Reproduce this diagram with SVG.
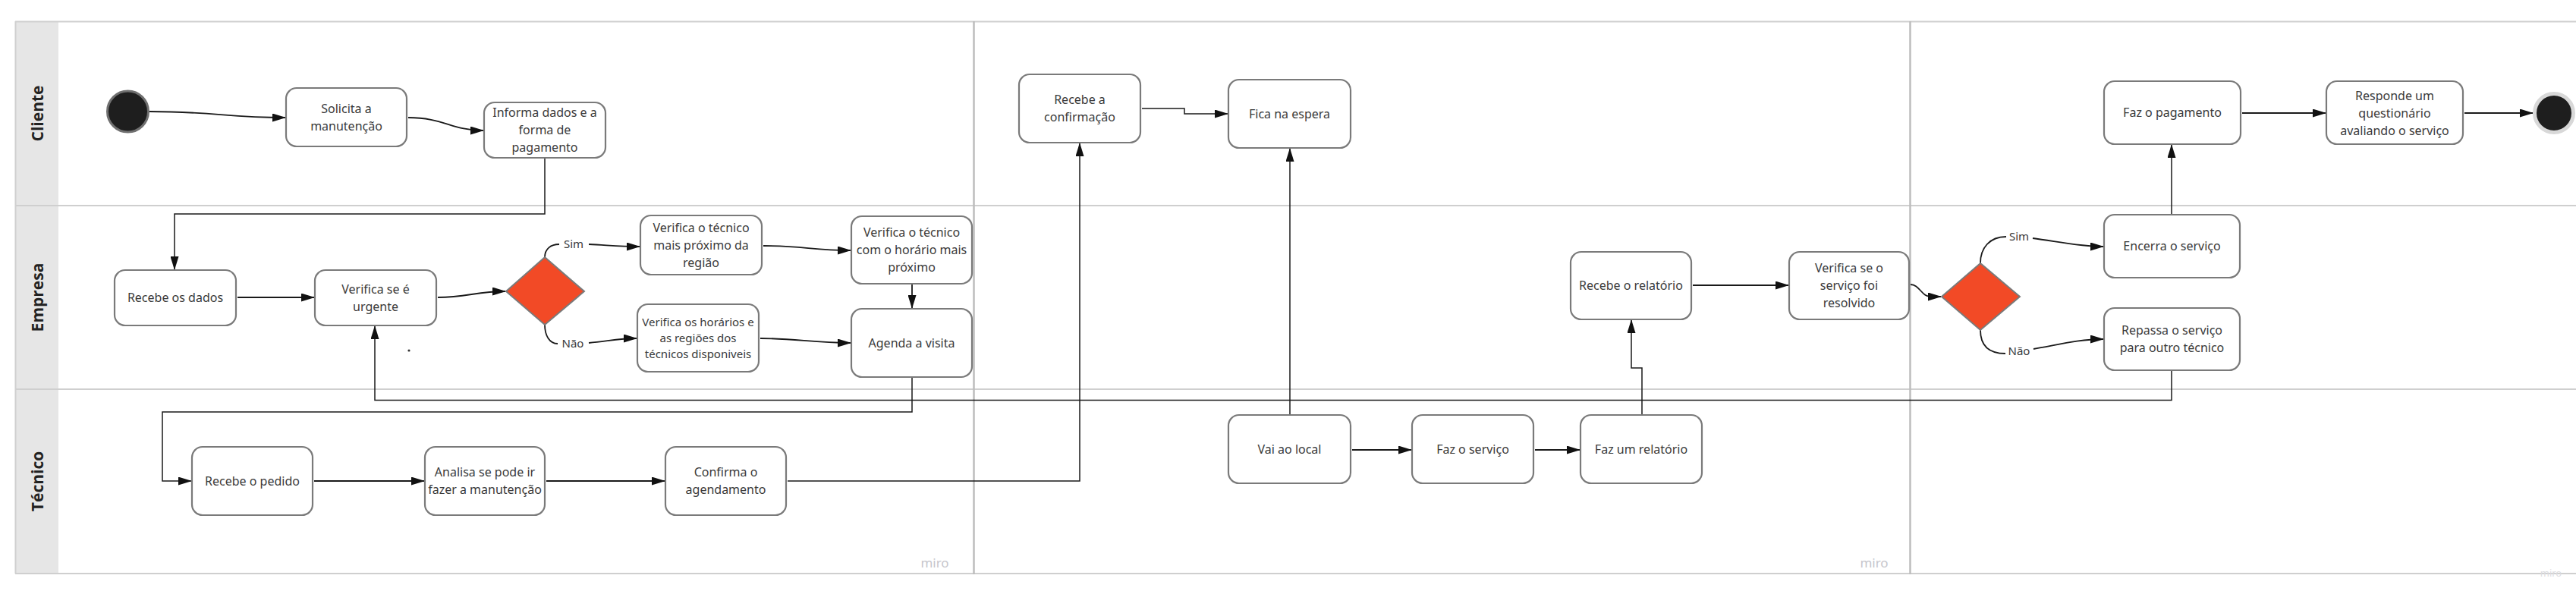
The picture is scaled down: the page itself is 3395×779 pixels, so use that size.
<svg xmlns="http://www.w3.org/2000/svg" width="3395" height="779" viewBox="0 0 3395 779">
<style>
.node rect{fill:#ffffff;stroke:#7a7a7a;stroke-width:2.2}
.node text,.lbl{font-family:"Noto Sans","Liberation Sans",sans-serif;font-size:16px;fill:#3a3a3a;text-anchor:middle}
.small text{font-size:15px}
.lbl{font-size:15px}
.lane{font-family:"Open Sans","Liberation Sans",sans-serif;font-size:21px;font-weight:700;fill:#222222;text-anchor:middle}
.dec{fill:#f24a26;stroke:#7a7a7a;stroke-width:2}
.conn path{fill:none;stroke:#1a1a1a;stroke-width:1.8}
.conn .o{stroke-width:1.5}
.arr{marker-end:url(#ah)}
.wm{font-family:"Noto Sans","Liberation Sans",sans-serif;font-size:17px;fill:#c6c6cc;text-anchor:middle}
</style>
<defs>
<marker id="ah" markerUnits="userSpaceOnUse" markerWidth="18" markerHeight="11" refX="17" refY="5.5" orient="auto">
<path d="M0,0 L18,5.5 L0,11 z" fill="#111111"/>
</marker>
</defs>
<rect width="3395" height="779" fill="#ffffff"/>
<g id="lanes">
<rect x="21" y="29" width="56" height="727" fill="#e6e6e6"/>
<path d="M20 28.5 H3395 M20 271 H3395 M20 513 H3395 M20 756 H3395 M20.5 28 V756" stroke="#cfcfcf" stroke-width="2" fill="none"/>
<path d="M1283.5 28 V757 M2517.5 28 V757" stroke="#bdbdbd" stroke-width="2.5" fill="none"/>
<text class="lane" transform="translate(49,149.5) rotate(-90)" y="8">Cliente</text>
<text class="lane" transform="translate(49,392) rotate(-90)" y="8">Empresa</text>
<text class="lane" transform="translate(49,634.5) rotate(-90)" y="8">Técnico</text>
<text class="wm" x="1232" y="748">miro</text>
<text class="wm" x="2470" y="748">miro</text>
<text class="wm" x="3362" y="760" style="font-size:13px;fill:#dcdce0">miro</text>
</g>
<g id="connectors" class="conn">
<path class="arr" d="M197 147 C280 147 300 155 376 155"/>
<path class="arr" d="M538 155 C585 155 595 172 637 172"/>
<path class="o arr" d="M718 208 V282 H230 V355"/>
<path class="arr" d="M313 392 H414"/>
<path class="arr" d="M577 392 C615 392 628 384 666 384"/>
<path d="M718 339 C718 328 726 322 737 322"/>
<path class="arr" d="M776 322 C800 323 815 325 843 325"/>
<path d="M718 428 C718 442 724 453 735 453"/>
<path class="arr" d="M776 452 C800 450 815 446 839 446"/>
<path class="arr" d="M1006 324 C1060 324 1070 330 1121 330"/>
<path class="arr" d="M1002 446 C1050 446 1070 452 1121 452"/>
<path class="arr" d="M1202 375 V406"/>
<path class="o arr" d="M1202 497 V543 H214 V634 H252"/>
<path class="arr" d="M414 634 H559"/>
<path class="arr" d="M720 634 H876"/>
<path class="o arr" d="M1038 634 H1423 V189"/>
<path class="o arr" d="M1505 143 H1561 V150 H1618"/>
<path class="o arr" d="M1700 547 V196"/>
<path class="arr" d="M1782 593 H1860"/>
<path class="arr" d="M2023 593 H2082"/>
<path class="o arr" d="M2164 547 V485 H2150 V422"/>
<path class="arr" d="M2231 376 H2357"/>
<path class="arr" d="M2518 375 C2530 375 2532 391 2545 391 L2558 391"/>
<path d="M2610 347 C2610 327 2622 312 2644 312"/>
<path class="arr" d="M2679 314 C2710 318 2740 325 2772 325"/>
<path d="M2610 435 C2610 455 2620 466 2643 466"/>
<path class="arr" d="M2680 460 C2710 455 2740 447 2772 447"/>
<path class="o arr" d="M2862 283 V191"/>
<path class="arr" d="M2955 149 H3065"/>
<path class="arr" d="M3248 149 H3338"/>
<path class="o arr" d="M2862 488 V527.5 H494 V430"/>
<text class="lbl" x="756" y="327">Sim</text>
<text class="lbl" x="755" y="458">Não</text>
<text class="lbl" x="2661" y="317">Sim</text>
<text class="lbl" x="2661" y="468">Não</text>
</g>
<g id="start"><circle cx="168.5" cy="147" r="27" fill="#1e1e1e" stroke="#707070" stroke-width="3"/></g>
<g id="n-solicita" class="node"><rect x="377" y="116" width="159" height="77" rx="14"/><text x="456.5" y="148.5">Solicita a</text><text x="456.5" y="171.5">manutenção</text></g>
<g id="n-informa" class="node"><rect x="638" y="135" width="160" height="73" rx="14"/><text x="718" y="154">Informa dados e a</text><text x="718" y="177">forma de</text><text x="718" y="200">pagamento</text></g>
<g id="n-recebe-dados" class="node"><rect x="151" y="356" width="160" height="73" rx="14"/><text x="231" y="398">Recebe os dados</text></g>
<g id="n-urgente" class="node"><rect x="415" y="356" width="160" height="73" rx="14"/><text x="495" y="386.5">Verifica se é</text><text x="495" y="409.5">urgente</text></g>
<g id="d-urgente"><polygon class="dec" points="718,339 770,384 718,428 667,384"/></g>
<g id="n-tecnico-proximo" class="node"><rect x="844" y="284" width="160" height="78" rx="14"/><text x="924" y="305.5">Verifica o técnico</text><text x="924" y="328.5">mais próximo da</text><text x="924" y="351.5">região</text></g>
<g id="n-horarios" class="node small"><rect x="840" y="401" width="160" height="89" rx="14"/><text x="920" y="430">Verifica os horários e</text><text x="920" y="451">as regiões dos</text><text x="920" y="472">técnicos disponiveis</text></g>
<g id="n-horario-proximo" class="node"><rect x="1122" y="285" width="159" height="89" rx="14"/><text x="1201.5" y="312">Verifica o técnico</text><text x="1201.5" y="335">com o horário mais</text><text x="1201.5" y="358">próximo</text></g>
<g id="n-agenda" class="node"><rect x="1122" y="407" width="159" height="90" rx="14"/><text x="1201.5" y="457.5">Agenda a visita</text></g>
<g id="n-recebe-pedido" class="node"><rect x="253" y="589" width="159" height="90" rx="14"/><text x="332.5" y="639.5">Recebe o pedido</text></g>
<g id="n-analisa" class="node"><rect x="560" y="589" width="158" height="90" rx="14"/><text x="639" y="628">Analisa se pode ir</text><text x="639" y="651">fazer a manutenção</text></g>
<g id="n-confirma" class="node"><rect x="877" y="589" width="159" height="90" rx="14"/><text x="956.5" y="628">Confirma o</text><text x="956.5" y="651">agendamento</text></g>
<g id="n-recebe-confirmacao" class="node"><rect x="1343" y="98" width="160" height="90" rx="14"/><text x="1423" y="137">Recebe a</text><text x="1423" y="160">confirmação</text></g>
<g id="n-espera" class="node"><rect x="1619" y="105" width="161" height="90" rx="14"/><text x="1699.5" y="155.5">Fica na espera</text></g>
<g id="n-vai-local" class="node"><rect x="1619" y="547" width="161" height="90" rx="14"/><text x="1699.5" y="597.5">Vai ao local</text></g>
<g id="n-faz-servico" class="node"><rect x="1861" y="547" width="160" height="90" rx="14"/><text x="1941" y="597.5">Faz o serviço</text></g>
<g id="n-faz-relatorio" class="node"><rect x="2083" y="547" width="160" height="90" rx="14"/><text x="2163" y="597.5">Faz um relatório</text></g>
<g id="n-recebe-relatorio" class="node"><rect x="2070" y="332" width="159" height="89" rx="14"/><text x="2149.5" y="382">Recebe o relatório</text></g>
<g id="n-resolvido" class="node"><rect x="2358" y="332" width="158" height="89" rx="14"/><text x="2437" y="359">Verifica se o</text><text x="2437" y="382">serviço foi</text><text x="2437" y="405">resolvido</text></g>
<g id="d-resolvido"><polygon class="dec" points="2610,347 2662,391 2610,435 2559,391"/></g>
<g id="n-encerra" class="node"><rect x="2773" y="283" width="179" height="83" rx="14"/><text x="2862.5" y="330">Encerra o serviço</text></g>
<g id="n-repassa" class="node"><rect x="2773" y="406" width="179" height="82" rx="14"/><text x="2862.5" y="441">Repassa o serviço</text><text x="2862.5" y="464">para outro técnico</text></g>
<g id="n-pagamento" class="node"><rect x="2773" y="107" width="180" height="83" rx="14"/><text x="2863" y="154">Faz o pagamento</text></g>
<g id="n-questionario" class="node"><rect x="3066" y="107" width="180" height="83" rx="14"/><text x="3156" y="131.5">Responde um</text><text x="3156" y="154.5">questionário</text><text x="3156" y="177.5">avaliando o serviço</text></g>
<g id="end"><circle cx="3366" cy="149" r="25.5" fill="#1e1e1e" stroke="#d8d8d8" stroke-width="5"/></g>
<circle cx="539" cy="462" r="1.6" fill="#333333"/>
</svg>
